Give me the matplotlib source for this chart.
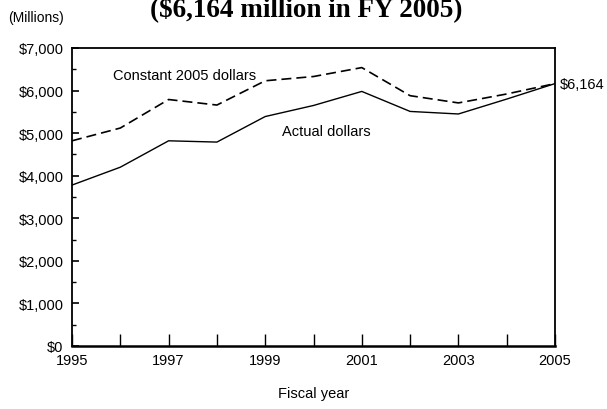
import matplotlib
matplotlib.use("Agg")
import matplotlib.pyplot as plt
from matplotlib.ticker import MultipleLocator, FuncFormatter

plt.rcParams['font.family'] = ['Liberation Sans', 'DejaVu Sans']

years = [1995, 1996, 1997, 1998, 1999, 2000, 2001, 2002, 2003, 2004, 2005]
actual = [3780, 4200, 4820, 4790, 5390, 5650, 5980, 5510, 5450, 5800, 6164]
constant = [4820, 5120, 5790, 5660, 6230, 6330, 6540, 5880, 5710, 5920, 6164]
xtick_years = [1995, 1997, 1999, 2001, 2003, 2005]

fs = 10.5

fig = plt.figure(figsize=(6.07, 4.10), dpi=100)
ax = fig.add_axes([72 / 607, 1 - 347 / 410, (555 - 72) / 607, (347 - 49) / 410])

ax.plot(years, actual, color='black', lw=1.0)
ax.plot(years, constant, color='black', lw=1.2, dashes=(6, 3))

ax.set_xlim(1995, 2005)
ax.set_ylim(0, 7000)
ax.set_xticks(years)
ax.set_xticklabels([str(y) if y in xtick_years else '' for y in years])
ax.yaxis.set_major_locator(MultipleLocator(1000))
ax.yaxis.set_minor_locator(MultipleLocator(500))
ax.yaxis.set_major_formatter(FuncFormatter(lambda v, p: '${:,.0f}'.format(v)))

ax.tick_params(axis='x', direction='in', length=9, width=1, labelsize=fs, pad=5)
ax.tick_params(axis='y', which='major', direction='in', length=5, width=1.2, labelsize=fs, pad=6)
ax.tick_params(axis='y', which='minor', direction='in', length=3, width=1)
for s in ax.spines.values():
    s.set_linewidth(1.3)
ax.spines['bottom'].set_linewidth(1.8)

ax.text(1995.85, 6360, 'Constant 2005 dollars', fontsize=fs, va='center', ha='left')
ax.text(1999.34, 5060, 'Actual dollars', fontsize=fs, va='center', ha='left')
ax.text(2005.1, constant[-1], '${:,}'.format(constant[-1]), fontsize=fs, va='center', ha='left')

ax.set_xlabel('Fiscal year', fontsize=fs, labelpad=14)

fig.text(8 / 607, 1 - 18 / 410, '(Millions)', fontsize=10, va='center', ha='left')
fig.text(306 / 607, 1 - 16 / 410, '($6,164 million in FY 2005)', fontsize=19.5, fontweight='bold',
         family=['Liberation Serif'], va='baseline', ha='center')

fig.savefig('out.png', dpi=100)
